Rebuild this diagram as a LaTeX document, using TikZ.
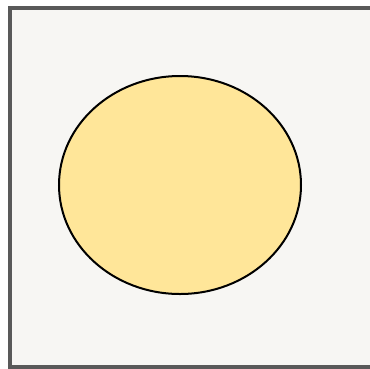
\documentclass[tikz,border=0pt]{standalone}
\usetikzlibrary{shapes.geometric}
\begin{document}
\begin{tikzpicture}[x=1pt,y=-1pt,
  frame/.style={draw=black!65,line width=4pt,fill=bgc},
  blob/.style={draw=black,line width=2pt,fill=yel}]
\definecolor{bgc}{HTML}{F7F6F3}
\definecolor{yel}{HTML}{FFE699}
\useasboundingbox (0,0) rectangle (370,368);
\clip (0,0) rectangle (370,368);
\path[frame] (10,8) rectangle (373,367);
\node[blob,ellipse,minimum width=242pt,minimum height=218pt,inner sep=0pt] (e) at (180,185) {};
\end{tikzpicture}
\end{document}
